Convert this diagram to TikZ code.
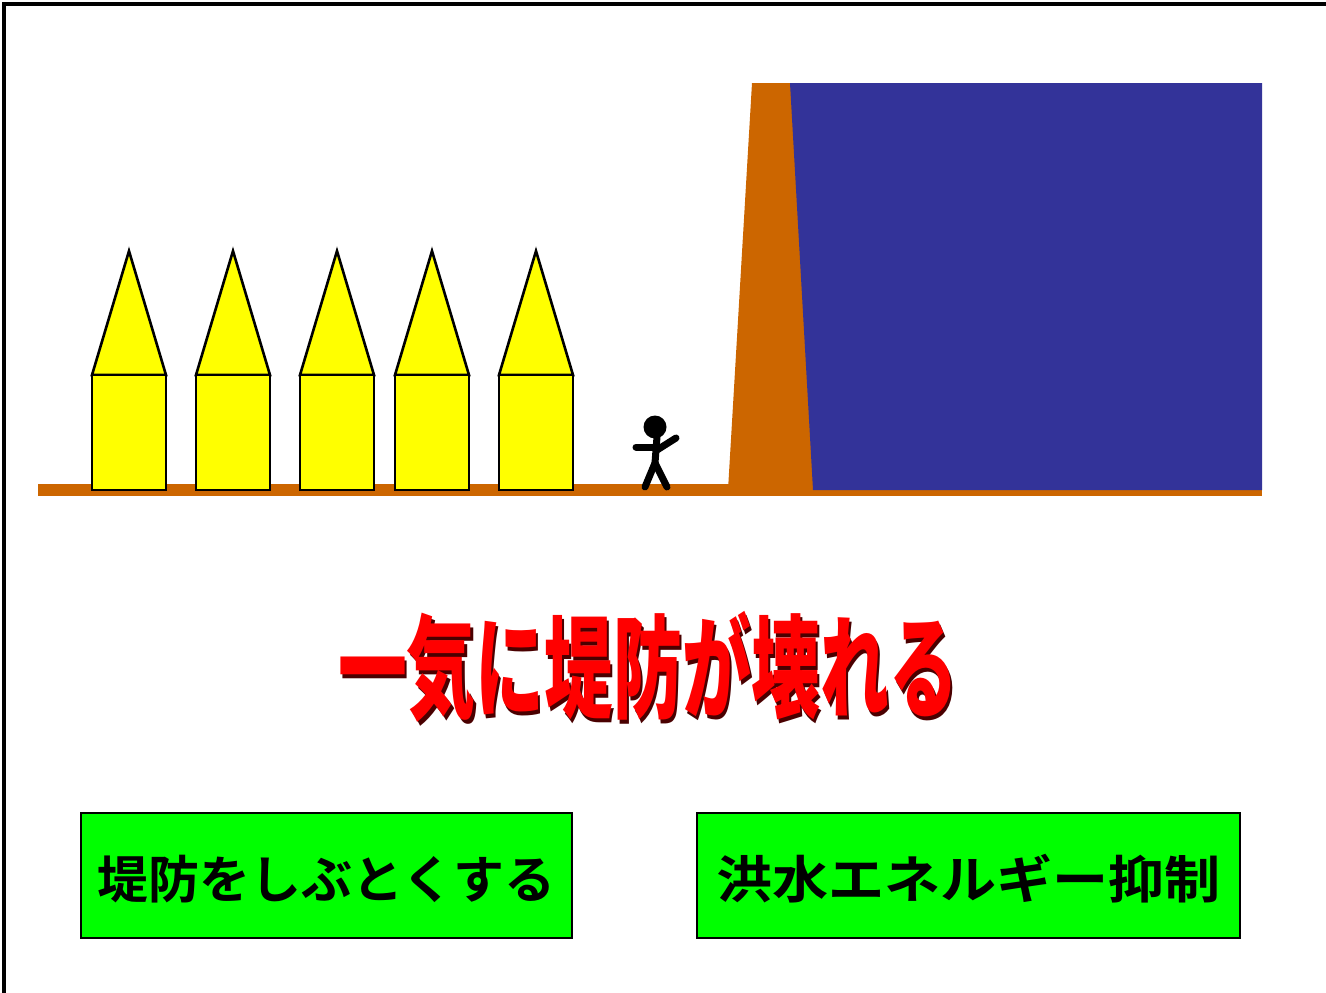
\documentclass[tikz,border=0pt]{standalone}
\usepackage{fontspec}
\newfontfamily\jpbold{Noto Sans CJK JP}[UprightFont=* Bold]
\newfontfamily\jpheavy{Noto Sans CJK JP}[UprightFont=* Black]
\definecolor{earth}{HTML}{CC6600}
\definecolor{water}{HTML}{333399}
\definecolor{roof}{HTML}{FFFF00}
\definecolor{panel}{HTML}{00FF00}
\definecolor{alarm}{HTML}{FF0000}
\definecolor{alarmshade}{HTML}{4A0000}
\newcommand{\shadowed}[1]{\makebox[0pt][l]{\hspace{3.5pt}\raisebox{-3.5pt}{\color{alarmshade}#1}}#1}
\tikzset{
  house/.style={fill=roof, draw=black, line width=2.6pt},
  walker/.style={line width=7pt, line cap=round, line join=round},
  panelbox/.style={draw=black, fill=panel, line width=2.5pt, inner sep=0pt,
    minimum height=125pt},
  paneltext/.style={font=\jpbold\fontsize{51}{51}\selectfont, text=black},
  headline/.style={font=\jpheavy\fontsize{112}{112}\selectfont, xscale=0.615}
}
\begin{document}
\begin{tikzpicture}[x=1pt, y=-1pt]
\useasboundingbox (0,0) rectangle (1326,993);
\clip (0,0) rectangle (1326,993);
% outer frame
\draw[line width=3.5pt] (4,4) rectangle (1400,1100);

% ground line
\fill[earth] (38,484) rectangle (1262,496);
% levee and river
\fill[earth] (752,83) -- (791,83) -- (814,490) -- (728,490) -- cycle;
\fill[water] (790,83) -- (1262,83) -- (1262,490) -- (813,490) -- cycle;

% houses
\foreach \cx in {129,233,337,432,536}{
  \draw[house] (\cx-37,375) -- (\cx,251) -- (\cx+37,375) -- cycle;
  \draw[house] (\cx-37,375) rectangle (\cx+37,490);
}

% walking person
\fill (655,427) circle (11.5);
\draw[walker] (657,437) -- (655,463) -- (645,487);
\draw[walker] (655,463) -- (667,487);
\draw[walker] (636,447) -- (660,447);
\draw[walker] (657,450) -- (676,438);

% headline with drop shadow
\node[headline, text=alarm] (title) at (648,669) {\shadowed{一気に堤防が壊れる}};

% countermeasure panels
\node[panelbox, minimum width=491pt] (levee) at (326.5,875.5) {};
\node[paneltext] (leveetext) at (326.5,879) {堤防をしぶとくする};
\node[panelbox, minimum width=543pt] (energy) at (968.5,875.5) {};
\node[paneltext, xscale=1.1] (energytext) at (968.5,879) {洪水エネルギー抑制};
\end{tikzpicture}
\end{document}
